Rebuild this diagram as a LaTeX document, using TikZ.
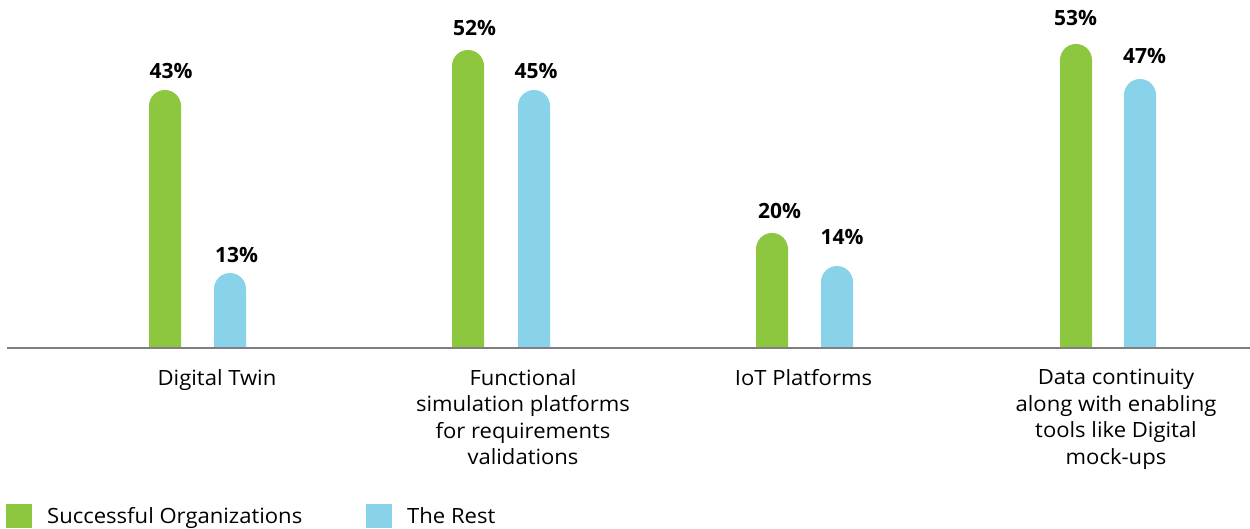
\documentclass[tikz,border=0pt]{standalone}
\usepackage{fontspec}
\setmainfont{Open Sans}
\newfontfamily\widefont{Open Sans}[FakeStretch=1.05]
\definecolor{sgreen}{HTML}{8DC63F}
\definecolor{sblue}{HTML}{88D3EA}
\definecolor{axisgray}{HTML}{7F7F7F}
\tikzset{
  valuelabel/.style={anchor=base, font=\fontsize{21}{25}\selectfont\bfseries, inner sep=0pt},
  catlabel/.style={anchor=north, align=center, font=\widefont\fontsize{21}{26.5}\selectfont, inner sep=0pt},
  legendtext/.style={anchor=base west, font=\widefont\fontsize{21}{25}\selectfont, inner sep=0pt},
  axisline/.style={draw=axisgray, line width=2pt},
}
\newcommand{\drawbar}[3]{%
  \fill[#1] (#2,180.5) -- (#2,#3-16) arc[start angle=180,end angle=0,radius=16] -- (#2+32,180.5) -- cycle;}
\begin{document}
\begin{tikzpicture}[x=1pt,y=1pt]
\useasboundingbox (0,0) rectangle (1250,528);
% bars
\drawbar{sgreen}{149}{438}
\drawbar{sblue}{214}{255}
\drawbar{sgreen}{452}{478}
\drawbar{sblue}{518}{438}
\drawbar{sgreen}{756}{295}
\drawbar{sblue}{821}{262}
\drawbar{sgreen}{1060}{484}
\drawbar{sblue}{1124}{449}
% axis
\coordinate (axL) at (7,180.5);
\coordinate (axR) at (1250,180.5);
\draw[axisline] (axL) -- (axR);
% value labels
\node[valuelabel] (v1) at (171,449) {43\%};
\node[valuelabel] (v2) at (236.5,265) {13\%};
\node[valuelabel] (v3) at (474.5,492) {52\%};
\node[valuelabel] (v4) at (536,449) {45\%};
\node[valuelabel] (v5) at (779.5,309) {20\%};
\node[valuelabel] (v6) at (842,283) {14\%};
\node[valuelabel] (v7) at (1075.5,502) {53\%};
\node[valuelabel] (v8) at (1144.5,464) {47\%};
% category labels
\node[catlabel] (c1) at (217,159) {Digital Twin};
\node[catlabel] (c2) at (523,159) {Functional\\simulation platforms\\for requirements\\validations};
\node[catlabel] (c3) at (803.5,159) {IoT Platforms};
\node[catlabel] (c4) at (1116,159) {Data continuity\\along with enabling\\tools like Digital\\mock-ups};
% legend
\fill[sgreen] (6,0) rectangle (32,24);
\node[legendtext] (l1) at (47,5) {Successful Organizations};
\fill[sblue] (366,0) rectangle (392,24);
\node[legendtext] (l2) at (407,5) {The Rest};
\end{tikzpicture}
\end{document}
